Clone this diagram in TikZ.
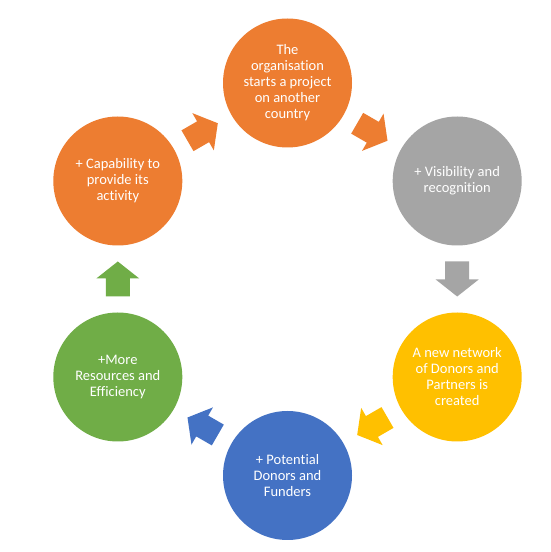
\documentclass[tikz,border=0pt]{standalone}
\usepackage{fontspec}
\setmainfont{Carlito}[RawFeature={-liga}]
\usetikzlibrary{calc}
\definecolor{corange}{HTML}{ED7D31}
\definecolor{cgray}{HTML}{A5A5A5}
\definecolor{cyellow}{HTML}{FFC000}
\definecolor{cblue}{HTML}{4472C4}
\definecolor{cgreen}{HTML}{70AD47}
\newcommand{\cyclearrow}[4]{%
  \fill[#4, shift={($(#1)!0.5!(#2)$)}, rotate=#3]
    (-17.5,-12) -- (0.5,-12) -- (0.5,-21.5) -- (17.5,0) -- (0.5,21.5) -- (0.5,12) -- (-17.5,12) -- cycle;}
\begin{document}
\begin{tikzpicture}[x=1pt,y=1pt,
  stepcircle/.style={circle, minimum size=129pt, inner sep=0pt, text=white, align=center,
    font=\fontsize{14.5}{16}\selectfont}]
\useasboundingbox[fill=white] (0,0) rectangle (550,552);
\node[stepcircle, fill=corange] (top) at (287.5,469) {The\\organisation\\starts a project\\on another\\country};
\node[stepcircle, fill=cgray] (right) at (457.2,371) {+ Visibility and\\recognition};
\node[stepcircle, fill=cyellow] (yellow) at (457.2,175) {A new network\\of Donors and\\Partners is\\created};
\node[stepcircle, fill=cblue] (bottom) at (287.5,76.5) {+ Potential\\Donors and\\Funders};
\node[stepcircle, fill=cgreen] (green) at (117.8,175) {+More\\Resources and\\Efficiency};
\node[stepcircle, fill=corange] (left) at (117.8,371) {+ Capability to\\provide its\\activity};
\cyclearrow{left}{top}{30}{corange}
\cyclearrow{top}{right}{-30}{corange}
\cyclearrow{right}{yellow}{-90}{cgray}
\cyclearrow{yellow}{bottom}{210}{cyellow}
\cyclearrow{bottom}{green}{150}{cblue}
\cyclearrow{green}{left}{90}{cgreen}
\end{tikzpicture}
\end{document}
